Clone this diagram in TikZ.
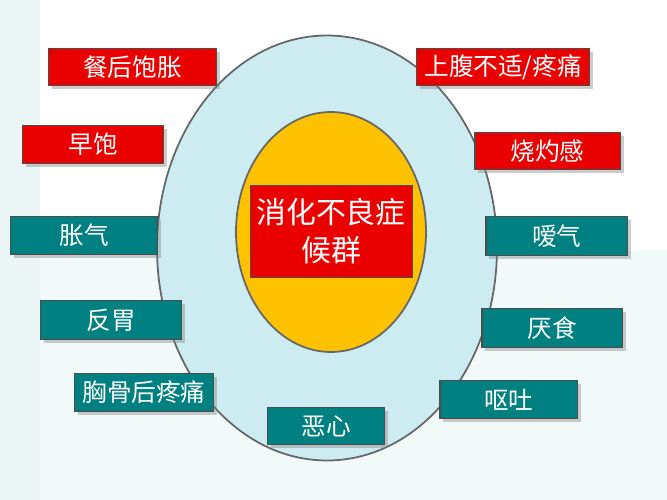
\documentclass[tikz,border=0pt]{standalone}
\usepackage{fontspec}
\newfontfamily\cjk{Noto Sans CJK SC}
\usetikzlibrary{shadows,shapes.geometric}
\definecolor{redb}{RGB}{235,0,0}
\definecolor{tealb}{RGB}{0,128,128}
\definecolor{ring}{RGB}{205,236,242}
\definecolor{core}{RGB}{255,194,0}
\tikzset{
 lbl/.style={draw=black!70,line width=0.8pt,text=white,font=\cjk\fontsize{14}{16}\selectfont,inner sep=0pt,drop shadow={shadow xshift=2pt,shadow yshift=-2pt,opacity=0.4}},
 rbox/.style={lbl,fill=redb},
 tbox/.style={lbl,fill=tealb}
}
\newcommand{\bx}[6]{\node[#1,minimum width=#4*0.02cm-0.8pt,minimum height=#5*0.02cm-0.8pt,anchor=north west] (#6) at (#2*0.02cm,-#3*0.02cm) {#6};}
\begin{document}
\begin{tikzpicture}
\useasboundingbox (0,0) rectangle (13.34,-10);
\fill[white] (0,0) rectangle (13.34,-10);
\fill[tealb!5] (0,-5) rectangle (13.34,-10);
\fill[tealb!8] (0,0) rectangle (0.8,-10);
\node[ellipse,draw=black!60,line width=1pt,fill=ring,minimum width=6.8cm,minimum height=8.5cm] (outer) at (6.54,-4.96) {};
\node[ellipse,draw=black!60,line width=1pt,fill=core,minimum width=3.8cm,minimum height=4.8cm] (inner) at (6.62,-4.64) {};
\node[draw=black!70,fill=redb,text=white,font=\cjk\fontsize{17}{22}\selectfont,align=center,inner sep=1pt,minimum width=3.24cm,minimum height=1.84cm] (center) at (6.62,-4.62) {消化不良症\\候群};
\bx{rbox}{48}{48}{169}{38}{餐后饱胀}
\bx{rbox}{22}{125}{142}{39}{早饱}
\bx{rbox}{416}{48}{174}{38}{上腹不适/疼痛}
\bx{rbox}{474}{132}{147}{38}{烧灼感}
\bx{tbox}{10}{216}{148}{39}{胀气}
\bx{tbox}{40}{300}{142}{40}{反胃}
\bx{tbox}{74}{373}{140}{39}{胸骨后疼痛}
\bx{tbox}{267}{407}{118}{38}{恶心}
\bx{tbox}{485}{216}{143}{40}{嗳气}
\bx{tbox}{481}{308}{142}{40}{厌食}
\bx{tbox}{439}{380}{139}{39}{呕吐}
\end{tikzpicture}
\end{document}
